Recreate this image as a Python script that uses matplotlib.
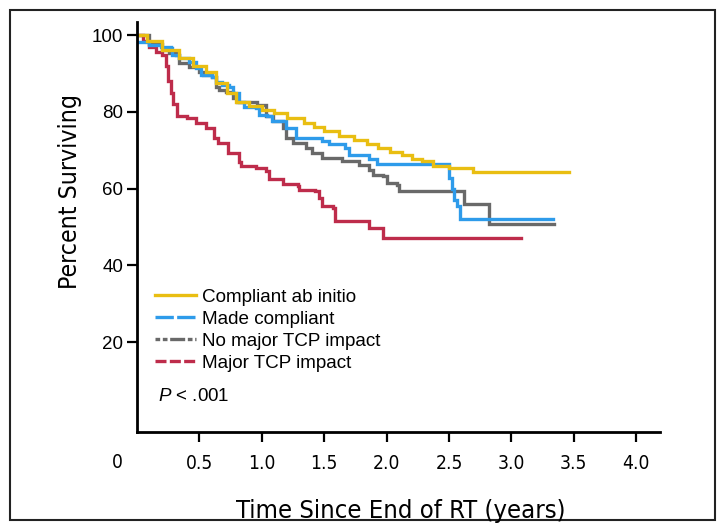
import matplotlib
matplotlib.use('Agg')

from matplotlib import pyplot as plt
from matplotlib import font_manager
from matplotlib.lines import Line2D
from matplotlib.patches import Rectangle

# step curves: time (years) and percent surviving

t_ab_initio = [0, 0.08, 0.2, 0.34, 0.45, 0.55, 0.63, 0.72, 0.79, 0.9, 1.0, 1.1, 1.2,
               1.34, 1.42, 1.5, 1.62, 1.74, 1.84, 1.93, 2.03, 2.12, 2.2, 2.28, 2.37,
               2.5, 2.69, 3.46]
s_ab_initio = [100, 98.5, 96, 93.9, 92, 90.4, 87.4, 85, 82.6, 81.5, 80.5, 79.6, 78.3,
               77.1, 76, 74.9, 73.8, 72.7, 71.6, 70.5, 69.6, 68.8, 67.8, 67.1, 65.8,
               65.4, 64.3, 64.3]

t_made = [0, 0.1, 0.19, 0.27, 0.28, 0.34, 0.42, 0.47, 0.51, 0.6, 0.63, 0.68, 0.74,
          0.77, 0.82, 0.86, 0.95, 0.98, 1.04, 1.08, 1.19, 1.27, 1.48, 1.54, 1.67,
          1.7, 1.83, 1.86, 1.92, 2.5, 2.52, 2.54, 2.56, 2.59, 3.33]
s_made = [98.2, 97.4, 96.9, 96.5, 94.8, 93.9, 93, 91.3, 89.6, 89.1, 87.8, 87, 86.5,
          84.8, 82.6, 81.3, 80.9, 79.2, 78.8, 77.5, 75.7, 73.1, 72.3, 71.5, 70.5,
          68.8, 68.8, 67.6, 66.4, 62.8, 60, 57, 55.4, 52.2, 52.2]

t_no_major = [0, 0.1, 0.2, 0.26, 0.31, 0.34, 0.42, 0.5, 0.53, 0.6, 0.63, 0.66, 0.71,
              0.77, 0.8, 0.93, 0.96, 1.03, 1.09, 1.17, 1.19, 1.25, 1.35, 1.4, 1.48,
              1.64, 1.78, 1.86, 1.89, 1.97, 2.0, 2.08, 2.1, 2.62, 2.82, 3.34]
s_no_major = [100, 97.7, 96.1, 95.2, 94.8, 92.6, 91.7, 90.4, 89.6, 89.1, 86.5, 85.6,
              85.2, 83.5, 82.6, 82.6, 81.8, 78.8, 77.5, 75.7, 73.1, 71.8, 70.5, 69.2,
              67.9, 67.1, 66.2, 64.9, 63.6, 63.2, 61.5, 61, 59.4, 56, 50.9, 50.9]

t_major = [0, 0.05, 0.1, 0.15, 0.2, 0.23, 0.25, 0.27, 0.29, 0.32, 0.4, 0.47, 0.55,
           0.62, 0.65, 0.73, 0.82, 0.83, 0.95, 1.03, 1.06, 1.17, 1.29, 1.3, 1.43,
           1.46, 1.48, 1.57, 1.59, 1.86, 1.97, 3.08]
s_major = [100, 98.5, 97, 95.5, 94.8, 92, 88, 85, 82, 79, 78.3, 77, 75.7, 73.1, 71.8,
           69.2, 67, 65.8, 65.3, 64.5, 62.4, 61.1, 60.6, 59.6, 59.3, 57.6, 55.4, 55,
           51.6, 49.8, 47.2, 47.2]

labels = ['Compliant ab initio', 'Made compliant', 'No major TCP impact', 'Major TCP impact']
colors = ['#E9BE12', '#2E9BEA', '#696969', '#BE2C4B']

x_ticks = [0.5, 1.0, 1.5, 2.0, 2.5, 3.0, 3.5, 4.0]
y_ticks = [20, 40, 60, 80, 100]

# the axis titles in the original use a condensed face; take one if installed
installed = font_manager.fontManager.ttflist
names = {f.name for f in installed}
if 'Liberation Sans Narrow' in names:
    narrow = dict(family=['Liberation Sans Narrow', 'DejaVu Sans'])
    squeeze = 1.0
elif any(f.name == 'DejaVu Sans' and f.stretch == 'condensed' for f in installed):
    narrow = dict(family=['DejaVu Sans'], stretch='condensed')
    squeeze = 0.95
else:
    narrow = dict(family=['Roboto', 'DejaVu Sans'])
    squeeze = 0.82
plain = ['Liberation Sans', 'DejaVu Sans']

plt.rcParams['mathtext.fontset'] = 'custom'
plt.rcParams['mathtext.it'] = 'Liberation Sans:italic'
plt.rcParams['mathtext.rm'] = 'Liberation Sans'

fig = plt.figure(figsize=(7.24, 5.27), dpi=100)
ax = fig.add_axes([137 / 724, 1 - 432 / 527, 523 / 724, 410 / 527])

series = [(t_ab_initio, s_ab_initio), (t_made, s_made),
          (t_no_major, s_no_major), (t_major, s_major)]

# draw red first so the others sit on top like in the original
for i in [3, 2, 1, 0]:
    t, s = series[i]
    ax.step(t, s, where='post', color=colors[i], lw=2.4, solid_joinstyle='miter')

ax.set_xlim(0, 4.19)
ax.set_ylim(-3.4, 103.4)

ax.spines['top'].set_visible(False)
ax.spines['right'].set_visible(False)
ax.spines['left'].set_linewidth(2)
ax.spines['bottom'].set_linewidth(2)

ax.set_xticks(x_ticks)
ax.set_xticklabels(['%.1f' % v for v in x_ticks], fontsize=14.5 * squeeze, **narrow)
ax.set_yticks(y_ticks)
ax.set_yticklabels([str(v) for v in y_ticks], family=plain, fontsize=13.5)
ax.tick_params(axis='both', length=7, width=1.6, direction='out', color='black')
ax.tick_params(axis='x', pad=9)
ax.tick_params(axis='y', pad=3)

# shared origin label at the corner
fig.text(117 / 724, 1 - 462 / 527, '0', fontsize=14.5 * squeeze,
         ha='center', va='center', **narrow)

fig.text(70 / 724, 1 - 192 / 527, 'Percent Surviving', fontsize=18.8 * squeeze,
         rotation=90, ha='center', va='center', **narrow)
fig.text(401 / 724, 1 - 511 / 527, 'Time Since End of RT (years)',
         fontsize=19.3 * squeeze, ha='center', va='center', **narrow)

# legend keys use dashed styles even though the curves are solid
handles = [
    Line2D([], [], color=colors[0], lw=2.4, ls='-'),
    Line2D([], [], color=colors[1], lw=2.4, ls=(0, (5.5, 1))),
    Line2D([], [], color=colors[2], lw=2.4, ls=(0, (1.4, 0.8, 1.4, 0.8, 4.5, 0.8))),
    Line2D([], [], color=colors[3], lw=2.4, ls=(0, (3.3, 1))),
]
leg = ax.legend(handles, labels, loc='upper left', bbox_to_anchor=(0.02, 0.368),
                frameon=False, prop={'family': plain, 'size': 13.6},
                handlelength=2.15, handletextpad=0.35, labelspacing=0.25,
                borderaxespad=0)

ax.text(0.04, 0.087, r'$P$ < .001', transform=ax.transAxes, family=plain,
        fontsize=13.5, ha='left', va='center')

# outer frame around the whole figure
fig.patches.append(Rectangle((10 / 724, 1 - 520 / 527), 705 / 724, 510 / 527,
                             transform=fig.transFigure, fill=False,
                             edgecolor='#222222', lw=1.5))

fig.savefig('out.png', dpi=100)
